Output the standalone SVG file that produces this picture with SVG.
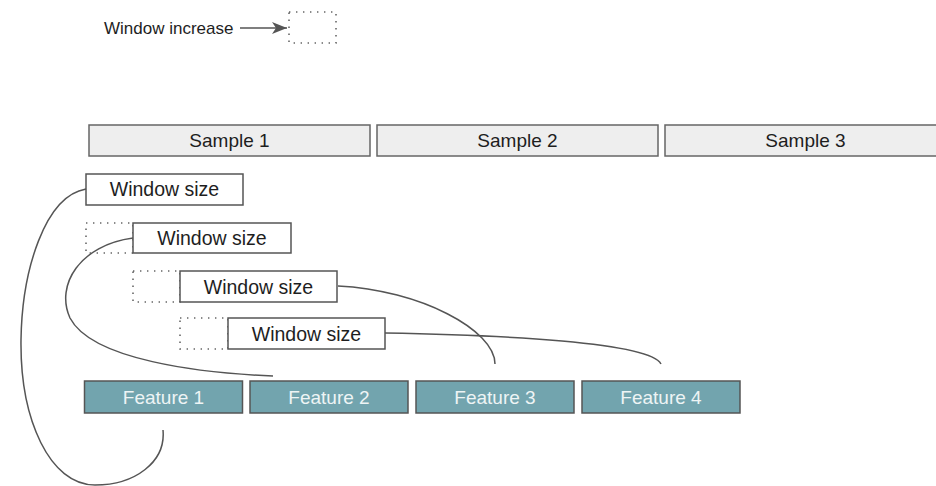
<svg xmlns="http://www.w3.org/2000/svg" width="936" height="486" viewBox="0 0 936 486">
  <defs>
    <marker id="arrow" viewBox="0 0 15 12" refX="15" refY="6" markerWidth="15" markerHeight="12" markerUnits="userSpaceOnUse" orient="auto">
      <path d="M0,0 L15,6 L0,12 L4,6 Z" fill="#555"/>
    </marker>
    <style>
      text { font-family: "Liberation Sans", Arial, sans-serif; text-anchor: middle; }
      .sample rect { fill: #eeeeee; stroke: #666; stroke-width: 1.5; }
      .sample text { font-size: 19px; fill: #1e1e1e; }
      .win rect.box { fill: #ffffff; stroke: #555; stroke-width: 1.5; }
      .win text { font-size: 19.5px; fill: #1e1e1e; }
      .dots { fill: none; stroke: #666; stroke-width: 1.6; stroke-dasharray: 1.4 5.6; }
      .feat rect { fill: #72a4ae; stroke: #555; stroke-width: 1.5; }
      .feat text { font-size: 19px; fill: #eef4f5; }
      .conn path { fill: none; stroke: #555; stroke-width: 1.5; }
    </style>
  </defs>
  <rect width="936" height="486" fill="#ffffff"/>

  <!-- legend -->
  <g id="legend">
    <text x="104" y="34" style="font-size:17px;text-anchor:start;fill:#1e1e1e">Window increase</text>
    <line x1="240" y1="28" x2="287" y2="28" stroke="#555" stroke-width="1.5" marker-end="url(#arrow)"/>
    <rect class="dots" x="289" y="12" width="47" height="31"/>
  </g>

  <!-- samples -->
  <g id="sample1" class="sample">
    <rect x="89" y="125" width="281" height="31"/>
    <text x="229.5" y="147">Sample 1</text>
  </g>
  <g id="sample2" class="sample">
    <rect x="377" y="125" width="281" height="31"/>
    <text x="517.5" y="147">Sample 2</text>
  </g>
  <g id="sample3" class="sample">
    <rect x="665" y="125" width="281" height="31"/>
    <text x="805.5" y="147">Sample 3</text>
  </g>

  <!-- windows -->
  <g id="window1" class="win">
    <rect class="box" x="86" y="174" width="157" height="31"/>
    <text x="164.5" y="196">Window size</text>
  </g>
  <g id="window2" class="win">
    <rect class="dots" x="86" y="223" width="47" height="30"/>
    <rect class="box" x="133" y="223" width="158" height="30"/>
    <text x="212" y="245">Window size</text>
  </g>
  <g id="window3" class="win">
    <rect class="dots" x="133" y="271" width="47" height="31"/>
    <rect class="box" x="180" y="271" width="157" height="31"/>
    <text x="258.5" y="294">Window size</text>
  </g>
  <g id="window4" class="win">
    <rect class="dots" x="180" y="318" width="48" height="31"/>
    <rect class="box" x="228" y="318" width="157" height="31"/>
    <text x="306.5" y="341">Window size</text>
  </g>

  <!-- features -->
  <g id="feature1" class="feat">
    <rect x="84.5" y="381" width="158" height="32"/>
    <text x="163.5" y="404">Feature 1</text>
  </g>
  <g id="feature2" class="feat">
    <rect x="250" y="381" width="158" height="32"/>
    <text x="329" y="404">Feature 2</text>
  </g>
  <g id="feature3" class="feat">
    <rect x="416" y="381" width="158" height="32"/>
    <text x="495" y="404">Feature 3</text>
  </g>
  <g id="feature4" class="feat">
    <rect x="582" y="381" width="158" height="32"/>
    <text x="661" y="404">Feature 4</text>
  </g>

  <!-- connectors -->
  <g id="connectors" class="conn">
    <path d="M86,189 C45,196 22,270 21,340 C20,420 50,485 95,485 C135,485 166,462 163,430"/>
    <path d="M133,238 C80,245 55,285 70,318 C92,360 200,373 273,376"/>
    <path d="M338,286 C420,290 495,330 495,364"/>
    <path d="M385,333 C500,335 650,342 661,364"/>
  </g>
</svg>
